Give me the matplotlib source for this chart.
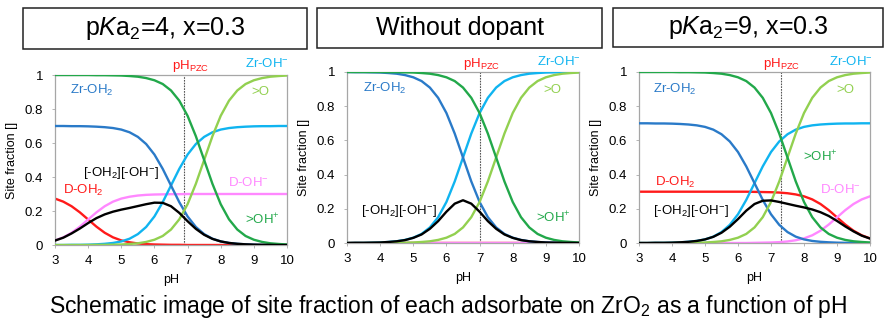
import matplotlib
matplotlib.use("Agg")
import matplotlib.pyplot as plt
from matplotlib.patches import Rectangle

plt.rcParams["font.family"] = ["Liberation Sans", "DejaVu Sans"]
plt.rcParams["mathtext.fontset"] = "custom"
plt.rcParams["mathtext.rm"] = "Liberation Sans"
plt.rcParams["mathtext.it"] = "Liberation Sans:italic"

# ---------------- data ----------------
PH = [3.0, 3.25, 3.5, 3.75, 4.0, 4.25, 4.5, 4.75, 5.0, 5.25, 5.5, 5.75, 6.0, 6.25,
      6.5, 6.75, 7.0, 7.25, 7.5, 7.75, 8.0, 8.25, 8.5, 8.75, 9.0, 9.25, 9.5, 9.75, 10.0]

# >OH+ and >O (same in all three panels)
OH_PLUS = [1.000, 1.000, 1.000, 1.000, 1.000, 0.999, 0.999, 0.998, 0.997, 0.994, 0.990,
           0.982, 0.969, 0.947, 0.909, 0.849, 0.760, 0.640, 0.500, 0.360, 0.240, 0.151,
           0.091, 0.053, 0.031, 0.018, 0.010, 0.006, 0.003]
O_SITE = [0.000, 0.000, 0.000, 0.000, 0.000, 0.001, 0.001, 0.002, 0.003, 0.006, 0.010,
          0.018, 0.031, 0.053, 0.091, 0.151, 0.240, 0.360, 0.500, 0.640, 0.760, 0.849,
          0.909, 0.947, 0.969, 0.982, 0.990, 0.994, 0.997]

# without dopant
ZROH2_0 = [1.000, 0.999, 0.999, 0.998, 0.997, 0.994, 0.990, 0.982, 0.969, 0.947, 0.909,
           0.849, 0.760, 0.640, 0.500, 0.360, 0.240, 0.151, 0.091, 0.053, 0.031, 0.018,
           0.010, 0.006, 0.003, 0.002, 0.001, 0.001, 0.000]
ZROH_0 = [0.000, 0.001, 0.001, 0.002, 0.003, 0.006, 0.010, 0.018, 0.031, 0.053, 0.091,
          0.151, 0.240, 0.360, 0.500, 0.640, 0.760, 0.849, 0.909, 0.947, 0.969, 0.982,
          0.990, 0.994, 0.997, 0.998, 0.999, 0.999, 1.000]
PAIR_0 = [0.000, 0.001, 0.001, 0.002, 0.003, 0.006, 0.010, 0.017, 0.030, 0.050, 0.083,
          0.128, 0.183, 0.230, 0.250, 0.230, 0.183, 0.128, 0.083, 0.050, 0.030, 0.017,
          0.010, 0.006, 0.003, 0.002, 0.001, 0.001, 0.000]
DOH2_0 = [0.0] * 29
DOH_0 = [0.0] * 29

# doped (x = 0.3): Zr sites
ZROH2_X = [0.700, 0.700, 0.699, 0.699, 0.698, 0.696, 0.693, 0.688, 0.679, 0.663, 0.636,
           0.594, 0.532, 0.448, 0.350, 0.252, 0.168, 0.106, 0.064, 0.037, 0.021, 0.012,
           0.007, 0.004, 0.002, 0.001, 0.001, 0.000, 0.000]
ZROH_X = [0.000, 0.000, 0.001, 0.001, 0.002, 0.004, 0.007, 0.012, 0.021, 0.037, 0.064,
          0.106, 0.168, 0.252, 0.350, 0.448, 0.532, 0.594, 0.636, 0.663, 0.679, 0.688,
          0.693, 0.696, 0.698, 0.699, 0.699, 0.700, 0.700]

# pKa2 = 4
DOH2_4 = [0.273, 0.255, 0.228, 0.192, 0.150, 0.108, 0.072, 0.045, 0.027, 0.016, 0.009,
          0.005, 0.003, 0.002, 0.001, 0.001, 0.000, 0.000, 0.000, 0.000, 0.000, 0.000,
          0.000, 0.000, 0.000, 0.000, 0.000, 0.000, 0.000]
DOH_4 = [0.027, 0.045, 0.072, 0.108, 0.150, 0.192, 0.228, 0.255, 0.273, 0.284, 0.291,
         0.295, 0.297, 0.298, 0.299, 0.299, 0.300, 0.300, 0.300, 0.300, 0.300, 0.300,
         0.300, 0.300, 0.300, 0.300, 0.300, 0.300, 0.300]
PAIR_4 = [0.026, 0.043, 0.068, 0.097, 0.129, 0.158, 0.180, 0.196, 0.208, 0.218, 0.229,
          0.240, 0.249, 0.248, 0.228, 0.189, 0.140, 0.095, 0.060, 0.036, 0.021, 0.012,
          0.007, 0.004, 0.002, 0.001, 0.001, 0.000, 0.000]

# pKa2 = 9
DOH2_9 = [0.300, 0.300, 0.300, 0.300, 0.300, 0.300, 0.300, 0.300, 0.300, 0.300, 0.300,
          0.300, 0.300, 0.300, 0.299, 0.298, 0.297, 0.295, 0.291, 0.284, 0.273, 0.255,
          0.228, 0.192, 0.150, 0.108, 0.072, 0.045, 0.027]
DOH_9 = [0.000, 0.000, 0.000, 0.000, 0.000, 0.000, 0.000, 0.000, 0.000, 0.000, 0.000,
         0.000, 0.000, 0.000, 0.001, 0.002, 0.003, 0.005, 0.009, 0.016, 0.027, 0.045,
         0.072, 0.108, 0.150, 0.192, 0.228, 0.255, 0.273]
PAIR_9 = [0.000, 0.000, 0.001, 0.001, 0.002, 0.004, 0.007, 0.012, 0.021, 0.036, 0.060,
          0.095, 0.140, 0.189, 0.228, 0.247, 0.249, 0.240, 0.229, 0.218, 0.208, 0.196,
          0.180, 0.158, 0.129, 0.097, 0.068, 0.043, 0.026]

PZC = [6.9, 7.0, 7.3]
TITLES = [r"p$\mathit{K}$a$_\mathregular{2}$=4, x=0.3", "Without dopant",
          r"p$\mathit{K}$a$_\mathregular{2}$=9, x=0.3"]
XTICKS = [3, 4, 5, 6, 7, 8, 9, 10]
YTICKS = [0, 0.2, 0.4, 0.6, 0.8, 1]
YTICKLABELS = ["0", "0.2", "0.4", "0.6", "0.8", "1"]

# ---------------- style ----------------
C_ZROH2 = "#2A7AC8"
C_ZROH = "#10B4F0"
C_OHP = "#22A84A"
C_O = "#92D050"
C_DOH2 = "#FF1A1A"
C_DOH = "#FF88FF"

L_ZROH2 = r"Zr-OH$_\mathregular{2}$"
L_ZROH = r"Zr-OH$^\mathregular{-}$"
L_PAIR = r"[-OH$_\mathregular{2}$][-OH$^\mathregular{-}$]"
L_DOH2 = r"D-OH$_\mathregular{2}$"
L_DOH = r"D-OH$^\mathregular{-}$"
L_OHP = r">OH$^\mathregular{+}$"
L_O = ">O"
L_PZC = r"pH$_\mathregular{PZC}$"

panels = [
    dict(zroh2=ZROH2_X, zroh=ZROH_X, doh2=DOH2_4, doh=DOH_4, pair=PAIR_4,
         labels=[(L_ZROH2, 3.45, 0.91, C_ZROH2), (L_PAIR, 3.85, 0.425, "black"),
                 (L_DOH2, 3.24, 0.32, C_DOH2), (L_DOH, 8.23, 0.37, C_DOH),
                 (L_OHP, 8.74, 0.15, C_OHP), (L_O, 8.94, 0.90, C_O),
                 (L_ZROH, 8.74, 1.07, C_ZROH), (L_PZC, 6.52, 1.05, C_DOH2)]),
    dict(zroh2=ZROH2_0, zroh=ZROH_0, doh2=DOH2_0, doh=DOH_0, pair=PAIR_0,
         labels=[(L_ZROH2, 3.49, 0.905, C_ZROH2), (L_PAIR, 3.42, 0.19, "black"),
                 (L_OHP, 8.69, 0.146, C_OHP), (L_O, 8.92, 0.895, C_O),
                 (L_ZROH, 8.72, 1.06, C_ZROH), (L_PZC, 6.51, 1.047, C_DOH2)]),
    dict(zroh2=ZROH2_X, zroh=ZROH_X, doh2=DOH2_9, doh=DOH_9, pair=PAIR_9,
         labels=[(L_ZROH2, 3.43, 0.90, C_ZROH2), (L_DOH2, 3.48, 0.353, C_DOH2),
                 (L_PAIR, 3.43, 0.19, "black"), (L_OHP, 7.96, 0.505, C_OHP),
                 (L_DOH, 8.48, 0.31, C_DOH), (L_O, 8.99, 0.895, C_O),
                 (L_ZROH, 8.76, 1.06, C_ZROH), (L_PZC, 6.77, 1.047, C_DOH2)]),
]

AX_POS = [[55 / 888, 1 - 245 / 324, 232 / 888, 170 / 324],
          [347 / 888, 1 - 243 / 324, 232 / 888, 171 / 324],
          [639 / 888, 1 - 243 / 324, 231 / 888, 171 / 324]]
BOX_PX = [(23, 307, 8, 49), (317, 602, 8, 48), (613, 883, 8, 47)]

fig = plt.figure(figsize=(8.88, 3.24), dpi=100)

for i, p in enumerate(panels):
    ax = fig.add_axes(AX_POS[i])
    lw = 1.7
    ax.plot(PH, p["doh2"], color=C_DOH2, lw=lw, zorder=2)
    ax.plot(PH, p["doh"], color=C_DOH, lw=lw, zorder=2)
    ax.plot(PH, p["zroh"], color=C_ZROH, lw=lw, zorder=3)
    ax.plot(PH, p["zroh2"], color=C_ZROH2, lw=lw, zorder=3)
    ax.plot(PH, O_SITE, color=C_O, lw=lw, zorder=3)
    ax.plot(PH, OH_PLUS, color=C_OHP, lw=lw, zorder=3)
    ax.plot(PH, p["pair"], color="black", lw=lw, zorder=4)
    ax.axvline(PZC[i], color="#555555", lw=0.8, ls=(0, (1.5, 1)), zorder=1)

    ax.set_xlim(3, 10)
    ax.set_ylim(0, 1)
    ax.set_xticks(XTICKS)
    ax.set_yticks(YTICKS)
    ax.set_yticklabels(YTICKLABELS)
    ax.tick_params(labelsize=9.5, length=2.5, width=0.6, color="#AAAAAA", pad=5)
    ax.tick_params(axis="y", pad=6)
    for s in ax.spines.values():
        s.set_color("#A6A6A6")
        s.set_linewidth(0.9)
    ax.set_xlabel("pH", fontsize=9, labelpad=5)
    ax.set_ylabel("Site fraction []", fontsize=9, labelpad=5)

    for txt, x, y, c in p["labels"]:
        ax.text(x, y, txt, color=c, fontsize=9.5, ha="left", va="center",
                clip_on=False, zorder=6)

    # title box
    x0, x1, y0, y1 = BOX_PX[i]
    fig.patches.append(Rectangle((x0 / 888, 1 - y1 / 324), (x1 - x0) / 888,
                                 (y1 - y0) / 324, transform=fig.transFigure,
                                 fill=False, edgecolor="#222222", lw=1.1))
    fig.text((x0 + x1) / 2 / 888, 1 - (y0 + y1) / 2 / 324, TITLES[i],
             fontsize=18, ha="center", va="center")

fig.text(0.505, 1 - 307 / 324,
         r"Schematic image of site fraction of each adsorbate on ZrO$_\mathregular{2}$ as a function of pH",
         fontsize=16.5, ha="center", va="center")

fig.savefig("out.png", dpi=100)
